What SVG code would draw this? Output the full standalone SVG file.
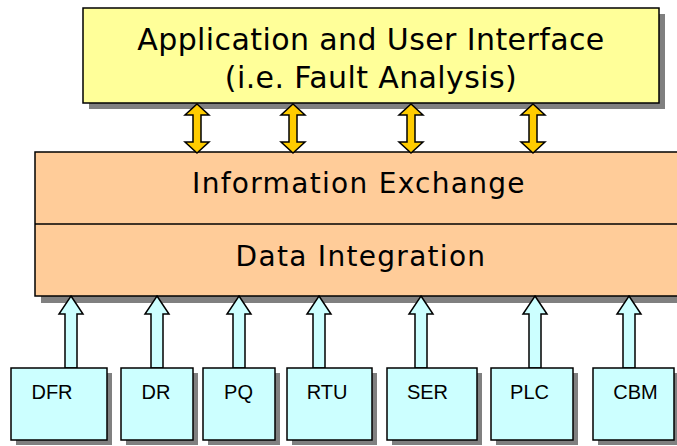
<svg xmlns="http://www.w3.org/2000/svg" width="677" height="446" viewBox="0 0 677 446">
<defs>
<style>
.sh{fill:#808080;}
.bx{stroke:#000;stroke-width:1.5;}
.big{font-family:"DejaVu Sans",Verdana,sans-serif;fill:#000;text-anchor:middle;}
.lbl{font-family:"Liberation Sans",Arial,sans-serif;font-size:20px;fill:#000;text-anchor:middle;}
.dbl{fill:#ffcc00;stroke:#000;stroke-width:1.5;stroke-linejoin:miter;}
.up{fill:#ccffff;stroke:#000;stroke-width:1.5;stroke-linejoin:miter;}
</style>
<path id="dblarrow" d="M0,0 L12,11 L4,11 L4,38 L12,38 L0,49 L-12,38 L-4,38 L-4,11 L-12,11 Z"/>
<path id="uparrow" d="M0,0 L12,18 L6,18 L6,72 L-6,72 L-6,18 L-12,18 Z"/>
</defs>
<rect width="677" height="446" fill="#fff"/>

<g id="app">
<rect class="sh" x="89" y="14" width="576" height="95"/>
<rect class="bx" x="83" y="8" width="576" height="95" fill="#ffff99"/>
<text class="big" x="371" y="50" font-size="30" letter-spacing="0.4">Application and User Interface</text>
<text class="big" x="371" y="88" font-size="30" letter-spacing="0.4">(i.e. Fault Analysis)</text>
</g>

<g id="exchange">
<rect class="sh" x="41" y="158" width="650" height="145"/>
<rect class="bx" x="35" y="152" width="650" height="144" fill="#ffcc99"/>
<line x1="35" y1="224" x2="685" y2="224" stroke="#000" stroke-width="1.5"/>
<text class="big" x="359" y="193" font-size="28" letter-spacing="1.3">Information Exchange</text>
<text class="big" x="361" y="266" font-size="28" letter-spacing="1.3">Data Integration</text>
</g>

<g id="connectors">
<use href="#dblarrow" class="dbl" x="197" y="104"/>
<use href="#dblarrow" class="dbl" x="293" y="104"/>
<use href="#dblarrow" class="dbl" x="411" y="104"/>
<use href="#dblarrow" class="dbl" x="533" y="104"/>
<use href="#uparrow" class="up" x="71" y="296"/>
<use href="#uparrow" class="up" x="157" y="296"/>
<use href="#uparrow" class="up" x="239" y="296"/>
<use href="#uparrow" class="up" x="319" y="296"/>
<use href="#uparrow" class="up" x="421" y="296"/>
<use href="#uparrow" class="up" x="535" y="296"/>
<use href="#uparrow" class="up" x="629" y="296"/>
</g>

<g id="dfr">
<rect class="sh" x="16" y="373" width="96" height="72"/>
<rect class="bx" x="11" y="368" width="96" height="72" fill="#ccffff"/>
<text class="lbl" x="52" y="399">DFR</text>
</g>
<g id="dr">
<rect class="sh" x="126" y="373" width="72" height="72"/>
<rect class="bx" x="121" y="368" width="72" height="72" fill="#ccffff"/>
<text class="lbl" x="156" y="399">DR</text>
</g>
<g id="pq">
<rect class="sh" x="208" y="373" width="72" height="72"/>
<rect class="bx" x="203" y="368" width="72" height="72" fill="#ccffff"/>
<text class="lbl" x="238.5" y="399">PQ</text>
</g>
<g id="rtu">
<rect class="sh" x="292" y="373" width="85" height="72"/>
<rect class="bx" x="287" y="368" width="85" height="72" fill="#ccffff"/>
<text class="lbl" x="327" y="399">RTU</text>
</g>
<g id="ser">
<rect class="sh" x="392" y="373" width="90" height="72"/>
<rect class="bx" x="387" y="368" width="90" height="72" fill="#ccffff"/>
<text class="lbl" x="427.5" y="399">SER</text>
</g>
<g id="plc">
<rect class="sh" x="496" y="373" width="82" height="72"/>
<rect class="bx" x="491" y="368" width="82" height="72" fill="#ccffff"/>
<text class="lbl" x="529.5" y="399">PLC</text>
</g>
<g id="cbm">
<rect class="sh" x="598" y="373" width="81" height="72"/>
<rect class="bx" x="593" y="368" width="81" height="72" fill="#ccffff"/>
<text class="lbl" x="635.5" y="399">CBM</text>
</g>
</svg>
